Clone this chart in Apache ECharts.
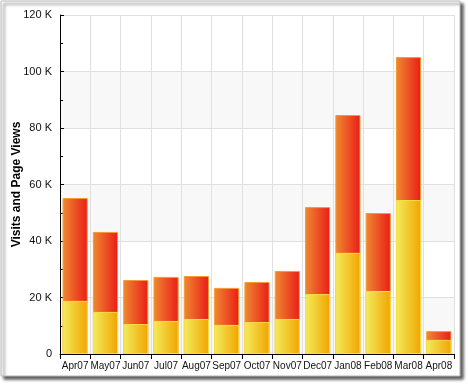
<!DOCTYPE html>
<html><head><meta charset="utf-8">
<script src="https://cdn.jsdelivr.net/npm/echarts@6/dist/echarts.min.js"></script>
<style>html,body{margin:0;padding:0;background:#fff}#c{width:468px;height:384px}</style>
</head><body><div id="c"></div>
<script>
const categories = ['Apr07','May07','Jun07','Jul07','Aug07','Sep07','Oct07','Nov07','Dec07','Jan08','Feb08','Mar08','Apr08'];
const visits = [18800,14900,10600,11700,12400,10300,11300,12400,21200,35800,22300,54500,5000];
const pageViews = [55200,43200,26200,27300,27600,23400,25500,29400,52000,84600,49900,105100,8100];
const yTicks = [0,20000,40000,60000,80000,100000,120000];

const chart = echarts.init(document.getElementById('c'), null, {renderer:'canvas'});
const font = 'Liberation Sans, Arial, sans-serif';
function grad(c1,c2){return new echarts.graphic.LinearGradient(0,0,1,0,[{offset:0,color:c1},{offset:1,color:c2}]);}
chart.setOption({
  animation:false,
  backgroundColor:'#fff',
  graphic:[{type:'rect',z:-10,shape:{x:1,y:1,width:459,height:375},
    style:{fill:'#fff',stroke:'#b8b8b8',lineWidth:1,shadowBlur:3,shadowOffsetX:3,shadowOffsetY:3,shadowColor:'rgba(0,0,0,0.65)'}}],
  grid:{left:60,right:14,top:15,bottom:30,containLabel:false,outerBoundsMode:'none'},
  xAxis:{type:'category',data:categories,boundaryGap:true,
    axisLine:{lineStyle:{color:'#000',width:1}},
    axisTick:{show:true,length:5,lineStyle:{color:'#000'}},
    axisLabel:{color:'#111',fontFamily:font,fontSize:10,margin:7,interval:0},
    splitLine:{show:true,lineStyle:{color:'#e0e0e0'}}},
  yAxis:{type:'value',min:0,max:120000,interval:20000,
    name:'Visits and Page Views',nameLocation:'middle',nameGap:37,nameMoveOverlap:false,
    nameTextStyle:{fontFamily:font,fontSize:12,fontWeight:'bold',color:'#000'},
    axisLine:{show:true,lineStyle:{color:'#000'}},
    axisTick:{show:true,inside:true,length:4,lineStyle:{color:'#000'}},
    minorTick:{show:true,splitNumber:2,length:3,lineStyle:{color:'#000'}},
    axisLabel:{color:'#111',fontFamily:font,fontSize:11,margin:8,
      formatter:v=>yTicks.indexOf(v)<0?'':(v===0?'0':(v/1000)+' K')},
    splitLine:{show:true,lineStyle:{color:'#e0e0e0'}},
    splitArea:{show:true,areaStyle:{color:['#f8f8f8','#ffffff']}}},
  series:[
    {type:'bar',name:'Page Views',data:pageViews,barCategoryGap:'17%',barGap:'-100%',
      itemStyle:{color:grad('#ef8a30','#ea1c18'),borderColor:'#f59a30',borderWidth:1}},
    {type:'bar',name:'Visits',data:visits,barCategoryGap:'17%',barGap:'-100%',
      itemStyle:{color:grad('#f2ec5c','#f2a400'),borderColor:'#f8e048',borderWidth:1}}
  ]
});
</script></body></html>
